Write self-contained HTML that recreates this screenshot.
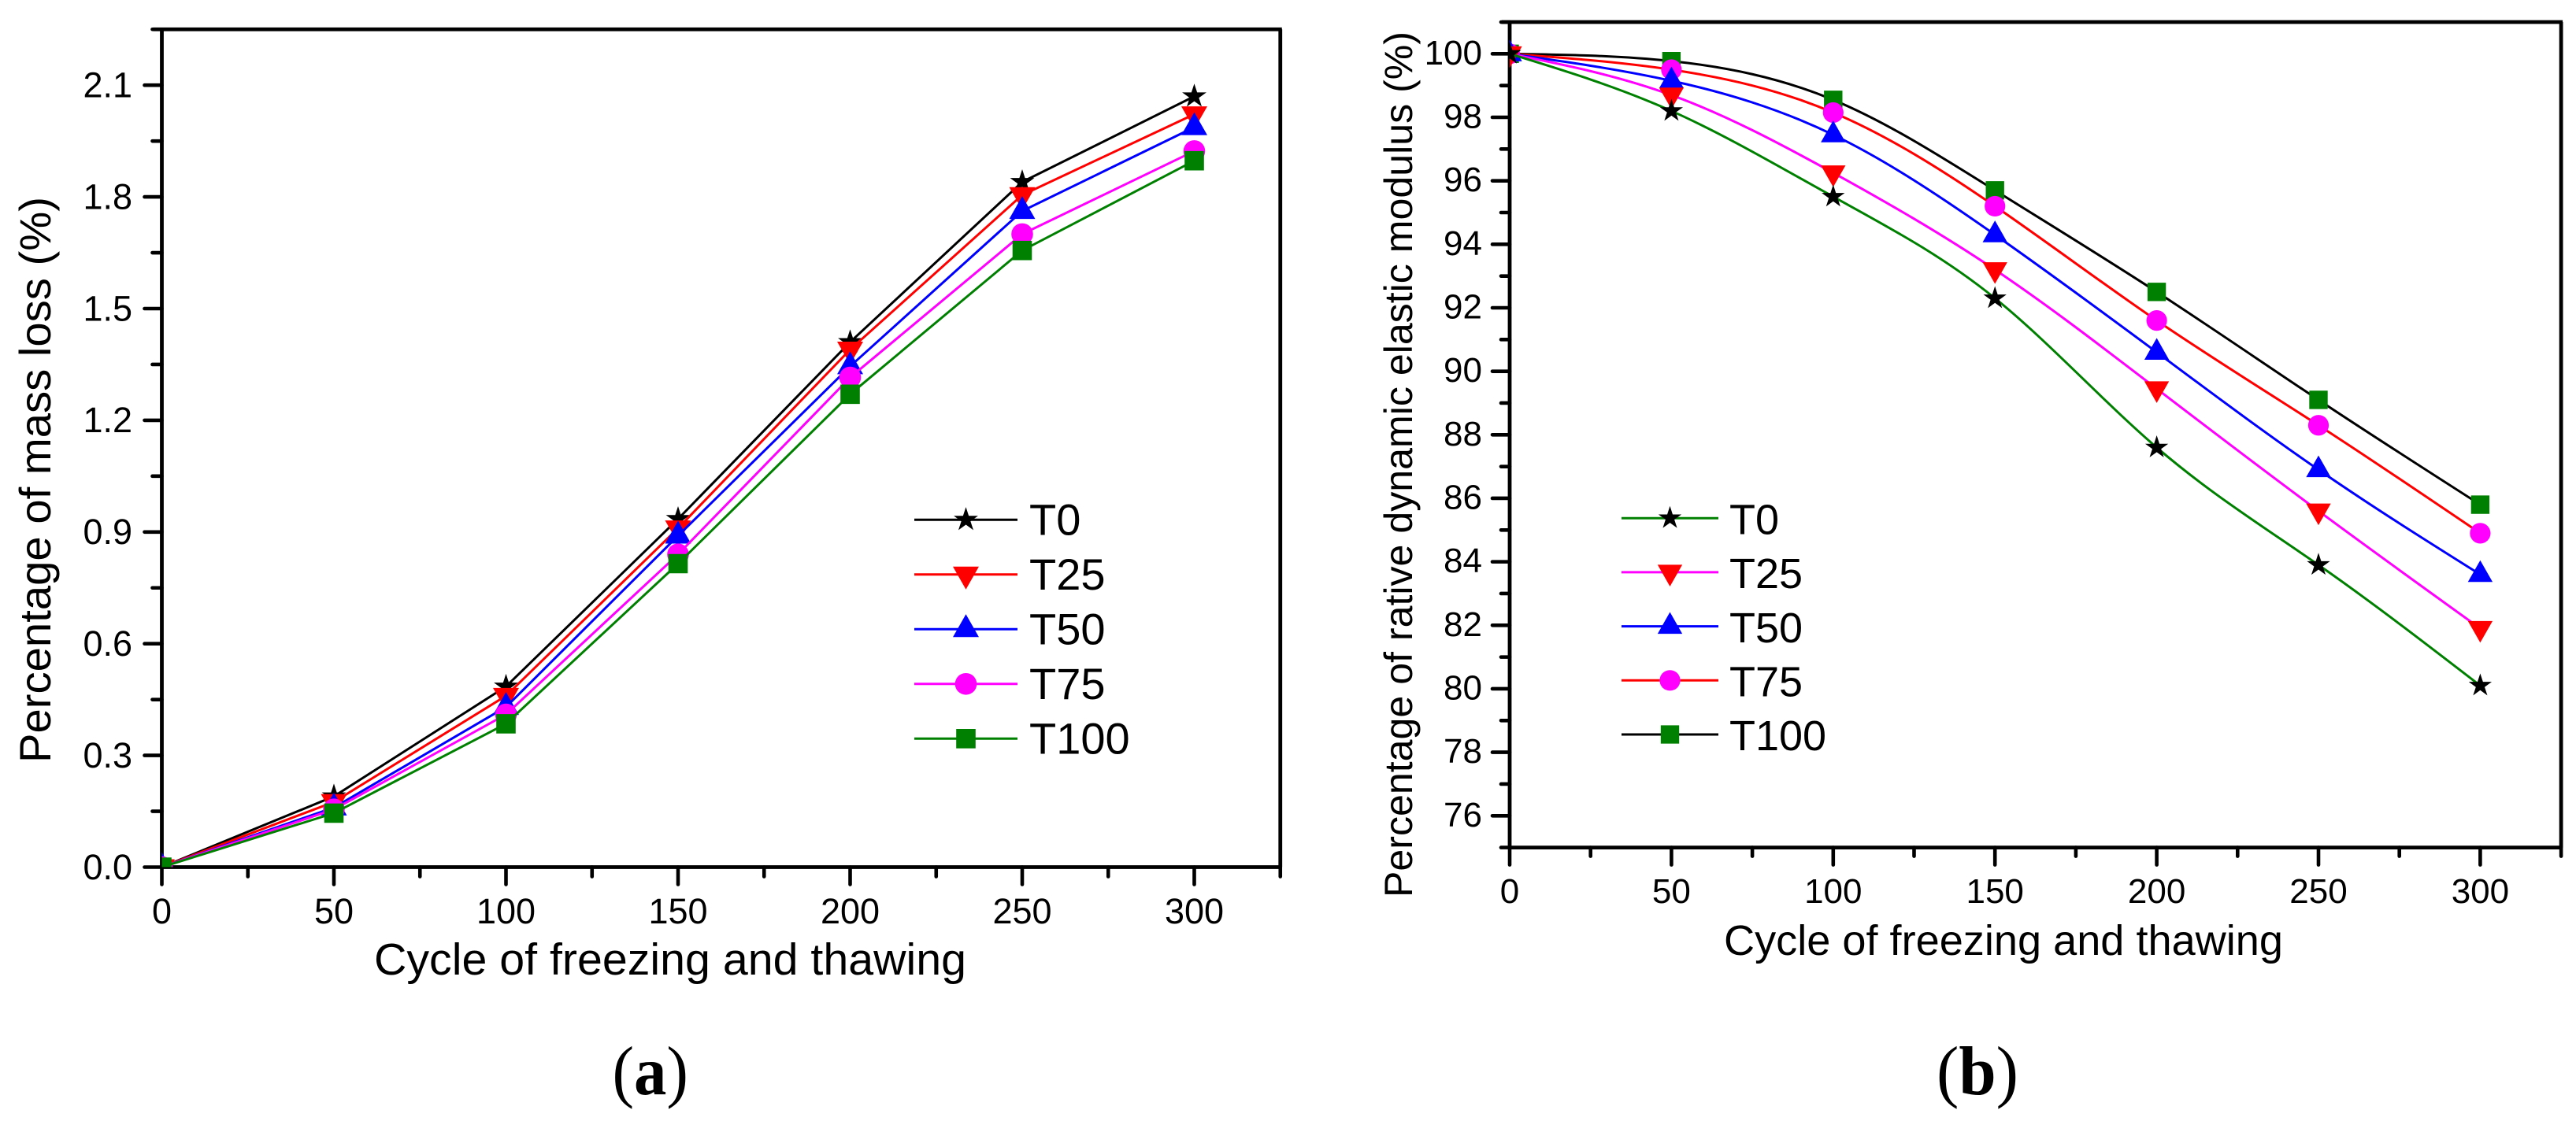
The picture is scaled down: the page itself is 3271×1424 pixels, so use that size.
<!DOCTYPE html>
<html lang="en">
<head>
<meta charset="utf-8">
<title>Mass loss and relative dynamic elastic modulus charts</title>
<style>
  html, body { margin: 0; padding: 0; background: #fff; }
  svg { display: block; }
  text { font-family: "Liberation Sans", Arial, sans-serif; fill: #000; }
  .caption { font-family: "Liberation Serif", "Times New Roman", serif; font-size: 88px; }
</style>
</head>
<body>
<svg id="figure" xmlns="http://www.w3.org/2000/svg" width="3271" height="1424" viewBox="0 0 3271 1424">
  <rect x="0" y="0" width="3271" height="1424" fill="#fff"/>
  <defs>
    <clipPath id="clipA"><rect x="205.5" y="37" width="1420" height="1064.5"/></clipPath>
    <clipPath id="clipB"><rect x="1917" y="27" width="1335" height="1050"/></clipPath>
  </defs>

  <g id="panelA"></g>
  <g id="panelB"></g>

  <text x="475" y="1238" font-size="57" textLength="752" lengthAdjust="spacingAndGlyphs">Cycle of freezing and thawing</text>
  <text transform="translate(64 969) rotate(-90)" font-size="56" textLength="719" lengthAdjust="spacingAndGlyphs">Percentage of mass loss (%)</text>
  <text x="2189" y="1213" font-size="54" textLength="710" lengthAdjust="spacingAndGlyphs">Cycle of freezing and thawing</text>
  <text transform="translate(1793 1140) rotate(-90)" font-size="50" textLength="1100" lengthAdjust="spacingAndGlyphs">Percentage of rative dynamic elastic modulus (%)</text>

  <text class="caption" x="825.7" y="1390" text-anchor="middle" textLength="96.5" lengthAdjust="spacingAndGlyphs">(<tspan font-weight="bold">a</tspan>)</text>
  <text class="caption" x="2511" y="1390" text-anchor="middle" textLength="104" lengthAdjust="spacingAndGlyphs">(<tspan font-weight="bold">b</tspan>)</text>
</svg>

<script>
// ---- data ----
const cycles = [0, 50, 100, 150, 200, 250, 300];
const seriesNames = ['T0', 'T25', 'T50', 'T75', 'T100'];

const massT0   = [0, 0.19,  0.485, 0.935, 1.41,  1.84,  2.07];
const massT25  = [0, 0.175, 0.46,  0.91,  1.39,  1.805, 2.022];
const massT50  = [0, 0.16,  0.43,  0.89,  1.345, 1.762, 1.987];
const massT75  = [0, 0.155, 0.41,  0.84,  1.315, 1.70,  1.923];
const massT100 = [0, 0.145, 0.385, 0.815, 1.27,  1.656, 1.897];

const modT0   = [100, 98.2,  95.5,  92.3,  87.6,  83.9,  80.1];
const modT25  = [100, 98.7,  96.25, 93.2,  89.45, 85.6,  81.9];
const modT50  = [100, 99.15, 97.45, 94.3,  90.6,  86.9,  83.6];
const modT75  = [100, 99.5,  98.15, 95.2,  91.6,  88.3,  84.9];
const modT100 = [100, 99.77, 98.55, 95.7,  92.5,  89.1,  85.8];

const xMajorTicks = [0, 50, 100, 150, 200, 250, 300];
const xMinorTicks = [25, 75, 125, 175, 225, 275, 325];
const massMajorTicks = ['0.0', '0.3', '0.6', '0.9', '1.2', '1.5', '1.8', '2.1'];
const massMinorTicks = [0.15, 0.45, 0.75, 1.05, 1.35, 1.65, 1.95, 2.25];
const modMajorTicks = ['76', '78', '80', '82', '84', '86', '88', '90', '92', '94', '96', '98', '100'];
const modMinorTicks = [75, 77, 79, 81, 83, 85, 87, 89, 91, 93, 95, 97, 99, 101];

const markerKinds = ['star', 'down', 'up', 'circle', 'square'];
const massLineColors = ['#000000', '#ff0000', '#0000ff', '#ff00ff', '#008000'];
const massMarkerColors = ['#000000', '#ff0000', '#0000ff', '#ff00ff', '#008000'];
const modLineColors = ['#008000', '#ff00ff', '#0000ff', '#ff0000', '#000000'];
const modMarkerColors = ['#000000', '#ff0000', '#0000ff', '#ff00ff', '#008000'];

const massSeries = [massT0, massT25, massT50, massT75, massT100];
const modSeries = [modT0, modT25, modT50, modT75, modT100];

// ---- drawing ----
const SVG_NS = 'http://www.w3.org/2000/svg';

function make(tag, parent) {
  const el = document.createElementNS(SVG_NS, tag);
  parent.appendChild(el);
  return el;
}

function markerPath(kind, cx, cy, k) {
  if (kind === 'star') {
    const R = 16.2 * k, r = R * 0.382;
    let d = '';
    for (let i = 0; i < 10; i++) {
      const rad = i % 2 === 0 ? R : r;
      const a = -Math.PI / 2 + i * Math.PI / 5;
      d += (i === 0 ? 'M' : 'L') + (cx + rad * Math.cos(a)).toFixed(2) + ' ' + (cy + rad * Math.sin(a)).toFixed(2);
    }
    return d + 'Z';
  }
  if (kind === 'down') {
    const w = 16.5 * k;
    return 'M' + (cx - w) + ' ' + (cy - 10 * k) + 'L' + (cx + w) + ' ' + (cy - 10 * k) + 'L' + cx + ' ' + (cy + 19 * k) + 'Z';
  }
  if (kind === 'up') {
    const w = 16.5 * k;
    return 'M' + (cx - w) + ' ' + (cy + 10 * k) + 'L' + (cx + w) + ' ' + (cy + 10 * k) + 'L' + cx + ' ' + (cy - 19 * k) + 'Z';
  }
  if (kind === 'square') {
    const h = 12.3 * k;
    return 'M' + (cx - h) + ' ' + (cy - h) + 'H' + (cx + h) + 'V' + (cy + h) + 'H' + (cx - h) + 'Z';
  }
  const r = 13.8 * k;
  return 'M' + (cx - r) + ' ' + cy + 'A' + r + ' ' + r + ' 0 1 0 ' + (cx + r) + ' ' + cy + 'A' + r + ' ' + r + ' 0 1 0 ' + (cx - r) + ' ' + cy + 'Z';
}

function straightPath(pts) {
  return pts.map((p, i) => (i ? 'L' : 'M') + p[0].toFixed(2) + ' ' + p[1].toFixed(2)).join('');
}

// Natural cubic spline through evenly spaced points (tangents from a tridiagonal solve).
function smoothPath(pts) {
  const n = pts.length;
  const h = pts[1][0] - pts[0][0];
  const chord = [];
  for (let i = 0; i < n - 1; i++) chord.push((pts[i + 1][1] - pts[i][1]) / h);
  const a = new Array(n).fill(1), b = new Array(n).fill(4), c = new Array(n).fill(1), r = new Array(n).fill(0);
  b[0] = 2; b[n - 1] = 2;
  r[0] = 3 * chord[0];
  r[n - 1] = 3 * chord[n - 2];
  for (let i = 1; i < n - 1; i++) r[i] = 3 * (chord[i - 1] + chord[i]);
  for (let i = 1; i < n; i++) {
    const w = a[i] / b[i - 1];
    b[i] -= w * c[i - 1];
    r[i] -= w * r[i - 1];
  }
  const m = new Array(n);
  m[n - 1] = r[n - 1] / b[n - 1];
  for (let i = n - 2; i >= 0; i--) m[i] = (r[i] - c[i] * m[i + 1]) / b[i];
  let d = 'M' + pts[0][0].toFixed(2) + ' ' + pts[0][1].toFixed(2);
  for (let i = 0; i < n - 1; i++) {
    d += 'C' + (pts[i][0] + h / 3).toFixed(2) + ' ' + (pts[i][1] + m[i] * h / 3).toFixed(2) + ' ' +
         (pts[i + 1][0] - h / 3).toFixed(2) + ' ' + (pts[i + 1][1] - m[i + 1] * h / 3).toFixed(2) + ' ' +
         pts[i + 1][0].toFixed(2) + ' ' + pts[i + 1][1].toFixed(2);
  }
  return d;
}

function tick(parent, x1, y1, x2, y2) {
  const el = make('line', parent);
  el.setAttribute('x1', x1);
  el.setAttribute('y1', y1);
  el.setAttribute('x2', x2);
  el.setAttribute('y2', y2);
  el.setAttribute('stroke', '#000');
  el.setAttribute('stroke-width', '4.6');
  el.setAttribute('stroke-linecap', 'round');
  
  
}

function frameLine(parent, x1, y1, x2, y2) {
  const el = make('line', parent);
  el.setAttribute('x1', x1);
  el.setAttribute('y1', y1);
  el.setAttribute('x2', x2);
  el.setAttribute('y2', y2);
  el.setAttribute('stroke', '#000');
  el.setAttribute('stroke-width', '4.8');
  
  
}

function label(parent, x, y, str, size, anchor) {
  const el = make('text', parent);
  el.setAttribute('x', x);
  el.setAttribute('y', y);
  el.setAttribute('font-size', size);
  el.setAttribute('text-anchor', anchor);
  
  
  el.textContent = str;
}

function drawPanel(o) {
  const g = document.getElementById(o.id);
  const sx = v => o.x0 + (v - o.xMin) * o.xPx;
  const sy = v => o.y0 - (v - o.yMin) * o.yPx;
  const left = sx(o.xMin), right = sx(o.xMax), bottom = sy(o.yMin), top = sy(o.yMax);

  // frame
  frameLine(g, left, top, left, bottom);
  frameLine(g, left, bottom, right, bottom);
  frameLine(g, left - o.minorLen + 1, top, right + 2, top);
  frameLine(g, right, top, right, bottom);

  // x ticks
  xMajorTicks.forEach(v => {
    tick(g, sx(v), bottom, sx(v), bottom + o.majorLen);
    label(g, sx(v), o.xLabelY, String(v), o.tickFont, 'middle');
  });
  xMinorTicks.forEach(v => tick(g, sx(v), bottom, sx(v), bottom + o.minorLen));

  // y ticks
  o.yMajor.forEach(t => {
    const v = parseFloat(t);
    tick(g, left, sy(v), left - o.majorLen, sy(v));
    label(g, o.yLabelX, sy(v) + o.yLabelDy, t, o.tickFont, 'end');
  });
  o.yMinor.forEach(v => tick(g, left, sy(v), left - o.minorLen, sy(v)));

  // series
  const order = o.reverse ? [4, 3, 2, 1, 0] : [0, 1, 2, 3, 4];
  order.forEach(i => {
    const sg = make('g', g);
    sg.setAttribute('clip-path', 'url(#' + o.clip + ')');
    
    
    const pts = cycles.map((c, j) => [sx(c), sy(o.series[i][j])]);
    const line = make('path', sg);
    line.setAttribute('d', o.smooth ? smoothPath(pts) : straightPath(pts));
    line.setAttribute('fill', 'none');
    line.setAttribute('stroke', o.lineColors[i]);
    line.setAttribute('stroke-width', '3');
    
    
    pts.forEach(p => {
      const m = make('path', sg);
      m.setAttribute('d', markerPath(markerKinds[i], p[0], p[1], o.markerScale));
      m.setAttribute('fill', o.markerColors[i]);
      
      
    });
  });

  // legend
  seriesNames.forEach((name, i) => {
    const ly = o.legend.y0 + i * o.legend.dy;
    const row = make('g', g);
    
    
    const line = make('line', row);
    line.setAttribute('x1', o.legend.x1);
    line.setAttribute('x2', o.legend.x2);
    line.setAttribute('y1', ly);
    line.setAttribute('y2', ly);
    line.setAttribute('stroke', o.lineColors[i]);
    line.setAttribute('stroke-width', '3');
    
    
    const m = make('path', row);
    m.setAttribute('d', markerPath(markerKinds[i], (o.legend.x1 + o.legend.x2) / 2, ly, o.markerScale));
    m.setAttribute('fill', o.markerColors[i]);
    
    
    const t = make('text', row);
    t.setAttribute('x', o.legend.tx);
    t.setAttribute('y', ly + o.legend.tdy);
    t.setAttribute('font-size', o.legend.font);
    
    
    t.textContent = name;
  });
}

drawPanel({
  id: 'panelA', clip: 'clipA', x0: 205.5, xPx: 218.5 / 50, xMin: 0, xMax: 325,
  y0: 1101.5, yPx: 473, yMin: 0, yMax: 2.25,
  majorLen: 22, minorLen: 12, tickFont: 45, xLabelY: 1173, yLabelX: 168, yLabelDy: 15.3,
  yMajor: massMajorTicks, yMinor: massMinorTicks,
  series: massSeries, lineColors: massLineColors, markerColors: massMarkerColors,
  smooth: false, reverse: false, markerScale: 1,
  legend: { x1: 1161, x2: 1292, y0: 660.3, dy: 69.5, tx: 1307, tdy: 19.2, font: 56 }
});

drawPanel({
  id: 'panelB', clip: 'clipB', x0: 1917, xPx: 205.4 / 50, xMin: 0, xMax: 325,
  y0: 1076.6, yPx: 40.33, yMin: 75, yMax: 101,
  majorLen: 22, minorLen: 11, tickFont: 44, xLabelY: 1147, yLabelX: 1882, yLabelDy: 13.5,
  yMajor: modMajorTicks, yMinor: modMinorTicks,
  series: modSeries, lineColors: modLineColors, markerColors: modMarkerColors,
  smooth: true, reverse: true, markerScale: 0.95,
  legend: { x1: 2059, x2: 2182, y0: 658.2, dy: 68.7, tx: 2196, tdy: 20.2, font: 54 }
});
</script>
</body>
</html>
